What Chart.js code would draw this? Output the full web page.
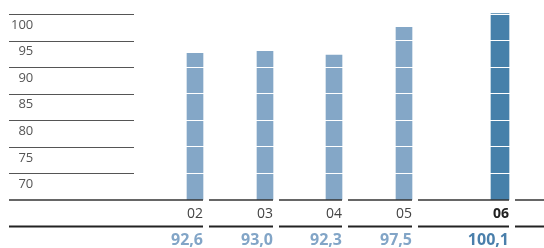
<!DOCTYPE html>
<html>
<head>
<meta charset="utf-8">
<script src="https://cdn.jsdelivr.net/npm/chart.js@4.4.0/dist/chart.umd.min.js"></script>
<style>
  html, body { margin: 0; padding: 0; background: #fff; }
</style>
</head>
<body>
<canvas id="chart" width="544" height="248"></canvas>
<script>
// data
const categories = ['02', '03', '04', '05', '06'];
const values = [92.6, 93.0, 92.3, 97.5, 100.1];
const yTicks = [70, 75, 80, 85, 90, 95, 100];
const highlight = '06';

const fmt = v => v.toFixed(1).replace('.', ',');

// category scale where every column is a line segment and the bar sits at its right end
class SegmentScale extends Chart.CategoryScale {
  static id = 'segment';
  static defaults = Chart.CategoryScale.defaults;

  segmentRight(i) {
    const o = this.options;
    let r = this.chart.chartArea.right - o.trailing - o.gap;
    for (let k = o.widths.length - 1; k > i; k--) r -= o.widths[k] + o.gap;
    return r;
  }

  segments() {
    const o = this.options;
    const area = this.chart.chartArea;
    const out = [];
    for (let i = 0; i < this.chart.data.labels.length; i++) {
      const right = this.segmentRight(i);
      out.push({ left: i === 0 ? area.left : right - o.widths[i], right });
    }
    out.push({ left: area.right - o.trailing, right: area.right });
    return out;
  }

  getPixelForValue(value) {
    if (typeof value !== 'number') value = this.parse(value);
    if (value === null || isNaN(value)) return NaN;
    return this.segmentRight(value) - this.options.insets[value];
  }
}
Chart.register(SegmentScale);

const segmentPlugin = {
  id: 'segments',
  afterDraw(chart, args, opts) {
    const { ctx, chartArea } = chart;
    const xs = chart.scales.x;
    const ys = chart.scales.y;
    ctx.save();

    // short grid lines behind the y labels
    ctx.strokeStyle = '#555';
    ctx.lineWidth = 1;
    ys.ticks.forEach(t => {
      const py = Math.round(ys.getPixelForValue(t.value)) + 0.5;
      ctx.beginPath();
      ctx.moveTo(chartArea.left, py);
      ctx.lineTo(chartArea.left + opts.gridWidth, py);
      ctx.stroke();
    });

    const segs = xs.segments();
    const base = chartArea.bottom;

    ctx.strokeStyle = '#333';
    ctx.lineWidth = 1.5;
    segs.forEach(s => {
      ctx.beginPath();
      ctx.moveTo(s.left, base);
      ctx.lineTo(s.right, base);
      ctx.stroke();
    });

    ctx.strokeStyle = '#222';
    ctx.lineWidth = 2;
    segs.forEach(s => {
      ctx.beginPath();
      ctx.moveTo(s.left, base + 26.5);
      ctx.lineTo(s.right, base + 26.5);
      ctx.stroke();
    });

    ctx.textAlign = 'right';
    ctx.textBaseline = 'middle';
    categories.forEach((c, i) => {
      const right = segs[i].right;
      const hi = c === highlight;
      ctx.font = (hi ? '700 ' : '400 ') + '14px "Open Sans"';
      ctx.fillStyle = hi ? '#222' : '#444';
      ctx.fillText(c, right, base + 14.5);
      ctx.font = '700 16px "Open Sans"';
      ctx.fillStyle = hi ? '#4a7fab' : '#82a5c7';
      ctx.fillText(fmt(values[i]), right, base + 40);
    });
    ctx.restore();
  }
};

new Chart(document.getElementById('chart'), {
  type: 'bar',
  data: {
    labels: categories,
    datasets: [
      {
        data: values.map((v, i) => categories[i] === highlight ? null : v),
        backgroundColor: '#84a7c7',
        barThickness: 16,
        grouped: false
      },
      {
        data: values.map((v, i) => categories[i] === highlight ? v : null),
        backgroundColor: '#4680aa',
        barThickness: 18,
        grouped: false
      }
    ]
  },
  options: {
    responsive: false,
    animation: false,
    layout: { padding: { left: 5, right: 0, top: 13, bottom: 48 } },
    plugins: {
      legend: { display: false },
      tooltip: { enabled: false },
      segments: { gridWidth: 125 }
    },
    scales: {
      x: {
        type: 'segment',
        display: false,
        widths: [0, 64, 63, 64, 91],
        gap: 6,
        trailing: 29,
        insets: [8, 8, 8, 8, 9]
      },
      y: {
        min: 65,
        max: 100.2,
        afterBuildTicks: scale => { scale.ticks = yTicks.map(v => ({ value: v })); },
        grid: { color: '#fff', z: 1, drawTicks: false },
        border: { display: false },
        ticks: {
          mirror: true,
          crossAlign: 'far',
          padding: 2,
          labelOffset: 11,
          color: '#555',
          font: { family: 'Open Sans', size: 13 }
        }
      }
    }
  },
  plugins: [segmentPlugin]
});
</script>
</body>
</html>
